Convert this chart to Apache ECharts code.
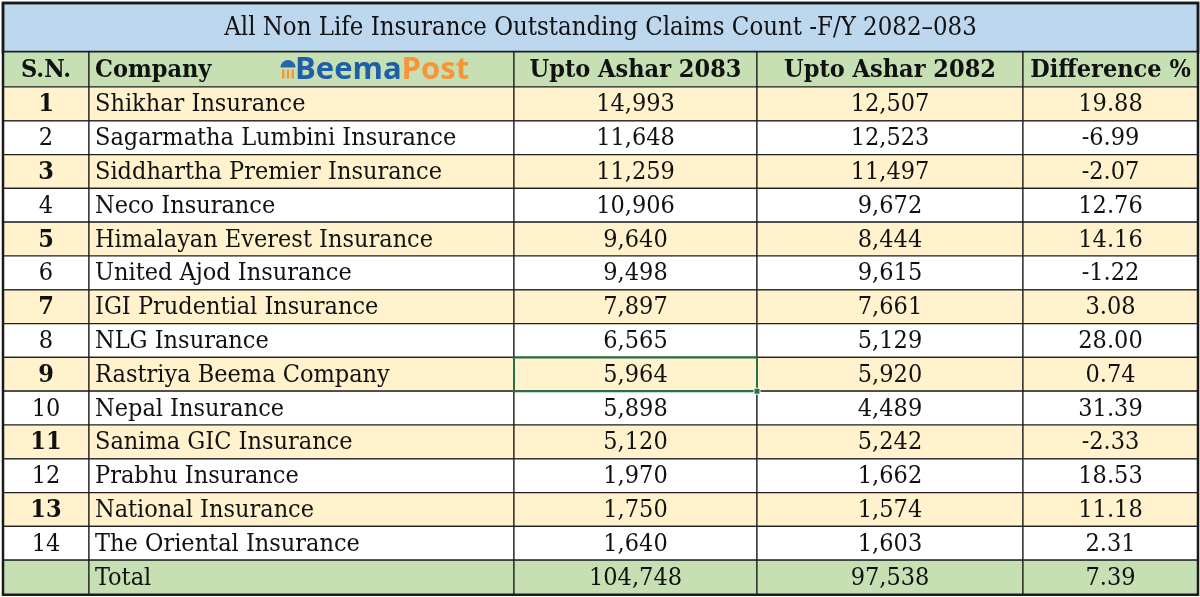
<!DOCTYPE html>
<html>
<head>
<meta charset="utf-8">
<script src="https://cdn.jsdelivr.net/npm/echarts@6/dist/echarts.min.js"></script>
<style>
  html, body { margin: 0; padding: 0; background: #fff; }
  #main { width: 1200px; height: 597px; }
</style>
</head>
<body>
<div id="main"></div>
<script>
// table data
const title = 'All Non Life Insurance Outstanding Claims Count -F/Y 2082\u2013083';
const headers = ['S.N.', 'Company', 'Upto Ashar 2083', 'Upto Ashar 2082', 'Difference %'];
const companies = [
  'Shikhar Insurance', 'Sagarmatha Lumbini Insurance', 'Siddhartha Premier Insurance',
  'Neco Insurance', 'Himalayan Everest Insurance', 'United Ajod Insurance',
  'IGI Prudential Insurance', 'NLG Insurance', 'Rastriya Beema Company',
  'Nepal Insurance', 'Sanima GIC Insurance', 'Prabhu Insurance',
  'National Insurance', 'The Oriental Insurance'
];
const ashar2083 = [14993, 11648, 11259, 10906, 9640, 9498, 7897, 6565, 5964, 5898, 5120, 1970, 1750, 1640];
const ashar2082 = [12507, 12523, 11497, 9672, 8444, 9615, 7661, 5129, 5920, 4489, 5242, 1662, 1574, 1603];
const diffPct = [19.88, -6.99, -2.07, 12.76, 14.16, -1.22, 3.08, 28.00, 0.74, 31.39, -2.33, 18.53, 11.18, 2.31];
const totalLabel = 'Total';
const total2083 = 104748;
const total2082 = 97538;
const totalDiff = 7.39;

// layout (axis units == px inside the grid)
const colEdges = [0, 86, 511, 754, 1020, 1195];
const rowH = { title: 49, head: 35, body: 33.8, total: 34.6 };
const selectedCell = { row: 8, col: 2 };   // Rastriya Beema / 2083 has the Excel cursor
const FONT = '"DejaVu Serif Condensed", "Liberation Serif", serif';
const SIZE = 25;
const fills = { title: '#BDD7EE', head: '#C6E0B4', odd: '#FFF2CC', even: '#FFFFFF', total: '#C6E0B4' };

const fmt = v => v.toLocaleString('en-US');

// rows and their edges
const rowKinds = ['title', 'head'].concat(companies.map((_, i) => i % 2 ? 'even' : 'odd'), ['total']);
const rowEdges = [0];
rowKinds.forEach(k => rowEdges.push(rowEdges[rowEdges.length - 1] + (rowH[k] || rowH.body)));

const cells = [];
cells.push({ c0: 0, c1: 5, r: 0, text: title, kind: 'title', align: 'center', size: 25.5 });
headers.forEach((h, j) => cells.push({ c0: j, c1: j + 1, r: 1, text: h, kind: 'head', bold: true, align: j === 1 ? 'left' : 'center', logo: j === 1 }));
companies.forEach((name, i) => {
  const r = i + 2, kind = rowKinds[r];
  cells.push({ c0: 0, c1: 1, r, text: String(i + 1), kind, bold: i % 2 === 0, align: 'center' });
  cells.push({ c0: 1, c1: 2, r, text: name, kind, align: 'left' });
  cells.push({ c0: 2, c1: 3, r, text: fmt(ashar2083[i]), kind, align: 'center' });
  cells.push({ c0: 3, c1: 4, r, text: fmt(ashar2082[i]), kind, align: 'center' });
  cells.push({ c0: 4, c1: 5, r, text: diffPct[i].toFixed(2), kind, align: 'center' });
});
const tr = rowKinds.length - 1;
cells.push({ c0: 0, c1: 1, r: tr, text: '', kind: 'total' });
cells.push({ c0: 1, c1: 2, r: tr, text: totalLabel, kind: 'total', align: 'left' });
cells.push({ c0: 2, c1: 3, r: tr, text: fmt(total2083), kind: 'total', align: 'center' });
cells.push({ c0: 3, c1: 4, r: tr, text: fmt(total2082), kind: 'total', align: 'center' });
cells.push({ c0: 4, c1: 5, r: tr, text: totalDiff.toFixed(2), kind: 'total', align: 'center' });
// overlays: excel cursor and the outer frame
cells.push({ c0: selectedCell.col, c1: selectedCell.col + 1, r: selectedCell.row + 2, kind: 'cursor' });
cells.push({ c0: 0, c1: 5, r: 0, r1: rowKinds.length, kind: 'frame' });

function logo(x, y) {
  return [
    { type: 'sector', shape: { cx: x + 7, cy: y - 3, r0: 0, r: 7.5, startAngle: Math.PI, endAngle: 2 * Math.PI }, style: { fill: '#2466AE' } },
    { type: 'rect', shape: { x: x + 1, y: y - 1, width: 2.5, height: 9 }, style: { fill: '#F7953B' } },
    { type: 'rect', shape: { x: x + 5.8, y: y - 1, width: 2.5, height: 9 }, style: { fill: '#F7953B' } },
    { type: 'rect', shape: { x: x + 10.5, y: y - 1, width: 2.5, height: 9 }, style: { fill: '#F7953B' } },
    { type: 'text', style: {
      x: x + 14, y: y, verticalAlign: 'middle', align: 'left',
      text: '{b|Beema}{p|Post}',
      rich: {
        b: { fontFamily: '"Open Sans", sans-serif', fontWeight: 'bold', fontSize: 31, fill: '#1F5EA8' },
        p: { fontFamily: '"Open Sans", sans-serif', fontWeight: 'bold', fontSize: 31, fill: '#F7953B' }
      }
    } }
  ];
}

function renderItem(params, api) {
  const c = cells[params.dataIndex];
  const p0 = api.coord([api.value(0), api.value(1)]);
  const p1 = api.coord([api.value(2), api.value(3)]);
  const x = p0[0], y = p0[1], w = p1[0] - p0[0], h = p1[1] - p0[1];
  if (c.kind === 'frame') {
    return { type: 'rect', shape: { x, y, width: w, height: h }, style: { fill: null, stroke: '#1a1a1a', lineWidth: 2.5 } };
  }
  if (c.kind === 'cursor') {
    return { type: 'group', children: [
      { type: 'rect', shape: { x, y, width: w, height: h }, style: { fill: null, stroke: '#217346', lineWidth: 2 } },
      { type: 'rect', shape: { x: x + w - 3, y: y + h - 3, width: 6, height: 6 }, style: { fill: '#217346', stroke: '#fff', lineWidth: 1 } }
    ] };
  }
  const children = [
    { type: 'rect', shape: { x, y, width: w, height: h },
      style: { fill: fills[c.kind], stroke: '#1f1f1f', lineWidth: c.kind === 'title' ? 2.5 : 1.2 } }
  ];
  if (c.text) {
    children.push({ type: 'text', style: {
      x: c.align === 'left' ? x + 6 : x + w / 2, y: y + h / 2 + 1,
      text: c.text, align: c.align, verticalAlign: 'middle',
      fontFamily: FONT, fontSize: c.size || SIZE, fontWeight: c.bold ? 'bold' : 'normal', fill: '#111'
    } });
  }
  if (c.logo) children.push(...logo(x + 192, y + h / 2 + 1));
  return { type: 'group', children };
}

const chart = echarts.init(document.getElementById('main'), null, { renderer: 'canvas' });
chart.setOption({
  animation: false,
  grid: { left: 3, top: 3, width: 1195, height: rowEdges[rowEdges.length - 1] },
  xAxis: { type: 'value', min: 0, max: colEdges[colEdges.length - 1], show: false },
  yAxis: { type: 'value', min: 0, max: rowEdges[rowEdges.length - 1], inverse: true, show: false },
  series: [{
    type: 'custom',
    clip: false,
    renderItem,
    data: cells.map(c => [colEdges[c.c0], rowEdges[c.r], colEdges[c.c1], rowEdges[c.r1 !== undefined ? c.r1 : c.r + 1]])
  }]
});
</script>
</body>
</html>
